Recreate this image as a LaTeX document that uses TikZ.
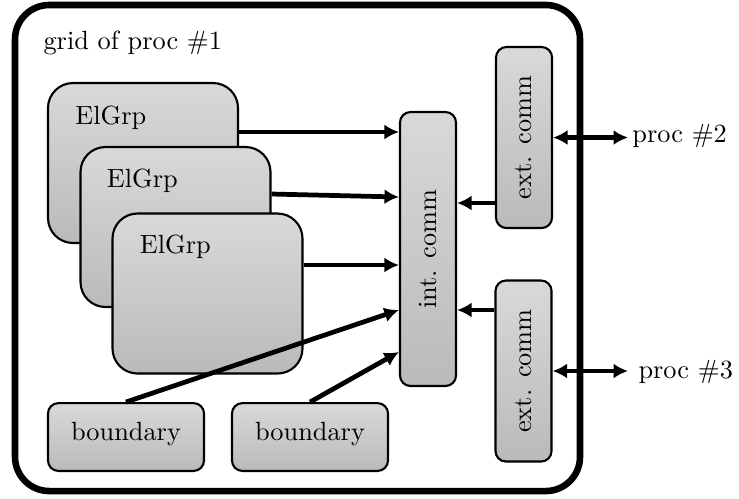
\documentclass[tikz,border=0pt]{standalone}
\usetikzlibrary{arrows.meta,calc}
\begin{document}
\begin{tikzpicture}[x=0.38pt,y=-0.38pt,
  box/.style={draw=black, thick, top color=black!15, bottom color=black!27, inner sep=0pt},
  elgrp/.style={box, rounded corners=9.5pt, minimum width=72.2pt, minimum height=60.8pt},
  commbox/.style={box, rounded corners=4pt, minimum width=21.3pt},
  bndbox/.style={box, rounded corners=4pt, minimum width=59.3pt, minimum height=25.8pt},
  lbl/.style={inner sep=0pt, font=\normalsize},
  tip/.style={},
  arr/.style={line width=1.8pt, -{Latex[length=5.5pt,width=5.7pt]}},
  darr/.style={line width=1.8pt, {Latex[length=5.5pt,width=5.7pt]}-{Latex[length=5.5pt,width=5.7pt]}}
]
\useasboundingbox (0,0) rectangle (739,498);
\node[draw, line width=2.5pt, rounded corners=13pt, minimum width=214.7pt, minimum height=184.7pt, inner sep=0pt] (frame) at (297.5,248) {};
\node[lbl, anchor=base west] (title) at (43,49) {grid of proc \#1};

\node[elgrp] (e1) at (143,163) {};
\node[lbl, anchor=base west] (t1) at ($(e1.north west)+(28,43)$) {ElGrp};
\node[elgrp] (e2) at (175.5,227) {};
\node[lbl, anchor=base west] (t2) at ($(e2.north west)+(27,42)$) {ElGrp};
\node[elgrp] (e3) at (207.5,293.5) {};
\node[lbl, anchor=base west] (t3) at ($(e3.north west)+(28,41)$) {ElGrp};

\node[commbox, minimum height=104.1pt] (ic) at (428,249) {};
\node[lbl, rotate=90] (tic) at (ic) {int. comm};
\node[commbox, minimum height=68.8pt] (x1) at (524,137.5) {};
\node[lbl, rotate=90] (tx1) at (x1) {ext. comm};
\node[commbox, minimum height=68.8pt] (x2) at (523.5,371) {};
\node[lbl, rotate=90] (tx2) at (x2) {ext. comm};

\node[bndbox] (b1) at (126,437) {};
\node[lbl, anchor=base] (tb1) at ($(b1.center)+(0,3)$) {boundary};
\node[bndbox] (b2) at (310,437) {};
\node[lbl, anchor=base] (tb2) at ($(b2.center)+(0,3)$) {boundary};

\node[lbl, anchor=base west, inner xsep=1.5pt] (p2) at (628,142) {proc \#2};
\node[lbl, anchor=base west, inner xsep=3.8pt] (p3) at (628,378) {proc \#3};

\draw[arr] (e1.east |- 0,132) -- (ic.west |- 0,132);
\draw[arr] (e2.east |- 0,194) -- (ic.west |- 0,197);
\draw[arr] (e3.east |- 0,265) -- (ic.west |- 0,265);
\draw[arr] (b1.north) -- (ic.west |- 0,310);
\draw[arr] (b2.north) -- (ic.west |- 0,352);
\draw[arr] (x1.west |- 0,203) -- (ic.east |- 0,203);
\draw[arr] (x2.west |- 0,310) -- (ic.east |- 0,310);
\draw[darr] (x1.east) -- (x1.east -| p2.west);
\draw[darr] (x2.east) -- (x2.east -| p3.west);
\end{tikzpicture}
\end{document}
